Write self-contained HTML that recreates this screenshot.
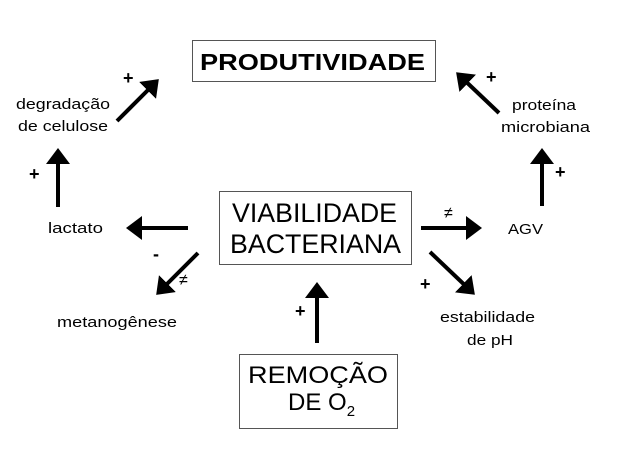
<!DOCTYPE html>
<html><head><meta charset="utf-8"><style>
html,body{margin:0;padding:0;background:#fff;}
svg{display:block;}
text{font-family:"Liberation Sans",Arial,sans-serif;fill:#000;}
</style></head><body>
<svg width="626" height="457" viewBox="0 0 626 457" xmlns="http://www.w3.org/2000/svg">
<defs>
<marker id="a" markerWidth="10" markerHeight="10" refX="3" refY="3" orient="auto" markerUnits="strokeWidth">
<path d="M0,0 L4,3 L0,6 Z" fill="#000"/>
</marker>
</defs>
<g fill="none" stroke="#555" stroke-width="1">
<rect x="192.5" y="40.5" width="243" height="41"/>
<rect x="219.5" y="191.5" width="192" height="73"/>
<rect x="239.5" y="354.5" width="158" height="74"/>
</g>
<text x="200" y="70" font-size="23" font-weight="bold" textLength="225" lengthAdjust="spacingAndGlyphs">PRODUTIVIDADE</text>
<text x="232" y="222" font-size="27" textLength="165" lengthAdjust="spacingAndGlyphs">VIABILIDADE</text>
<text x="230" y="253" font-size="27" textLength="171" lengthAdjust="spacingAndGlyphs">BACTERIANA</text>
<text x="248" y="383" font-size="24" textLength="140" lengthAdjust="spacingAndGlyphs">REMOÇÃO</text>
<text x="288" y="410" font-size="24">DE O<tspan font-size="15" dy="6">2</tspan></text>

<g stroke="#000" stroke-width="4" fill="none" marker-end="url(#a)">
<line x1="117" y1="121" x2="156" y2="82"/>
<line x1="58" y1="207" x2="58" y2="152"/>
<line x1="188" y1="228" x2="130" y2="228"/>
<line x1="198" y1="253" x2="159" y2="292"/>
<line x1="421" y1="228" x2="478" y2="228"/>
<line x1="542" y1="206" x2="542" y2="152"/>
<line x1="499" y1="113" x2="459" y2="75"/>
<line x1="430" y1="252" x2="472" y2="292"/>
<line x1="317" y1="343" x2="317" y2="286"/>
</g>

<g font-size="15">
<text x="16" y="109" textLength="94" lengthAdjust="spacingAndGlyphs">degradação</text>
<text x="18" y="131" textLength="90" lengthAdjust="spacingAndGlyphs">de celulose</text>
<text x="48" y="233" textLength="55" lengthAdjust="spacingAndGlyphs">lactato</text>
<text x="57" y="327" textLength="120" lengthAdjust="spacingAndGlyphs">metanogênese</text>
<text x="512" y="110" textLength="64" lengthAdjust="spacingAndGlyphs">proteína</text>
<text x="501" y="132" textLength="89" lengthAdjust="spacingAndGlyphs">microbiana</text>
<text x="508" y="234" textLength="35" lengthAdjust="spacingAndGlyphs">AGV</text>
<text x="440" y="322" textLength="95" lengthAdjust="spacingAndGlyphs">estabilidade</text>
<text x="467" y="345" textLength="46" lengthAdjust="spacingAndGlyphs">de pH</text>
</g>
<g font-size="18" font-weight="bold">
<text x="123" y="84">+</text>
<text x="29" y="180">+</text>
<text x="555" y="178">+</text>
<text x="486" y="83">+</text>
<text x="420" y="290">+</text>
<text x="295" y="317">+</text>
<text x="153" y="260">-</text>
</g>
<g font-size="16">
<text x="179" y="285">≠</text>
<text x="444" y="218">≠</text>
</g>
</svg>
</body></html>
